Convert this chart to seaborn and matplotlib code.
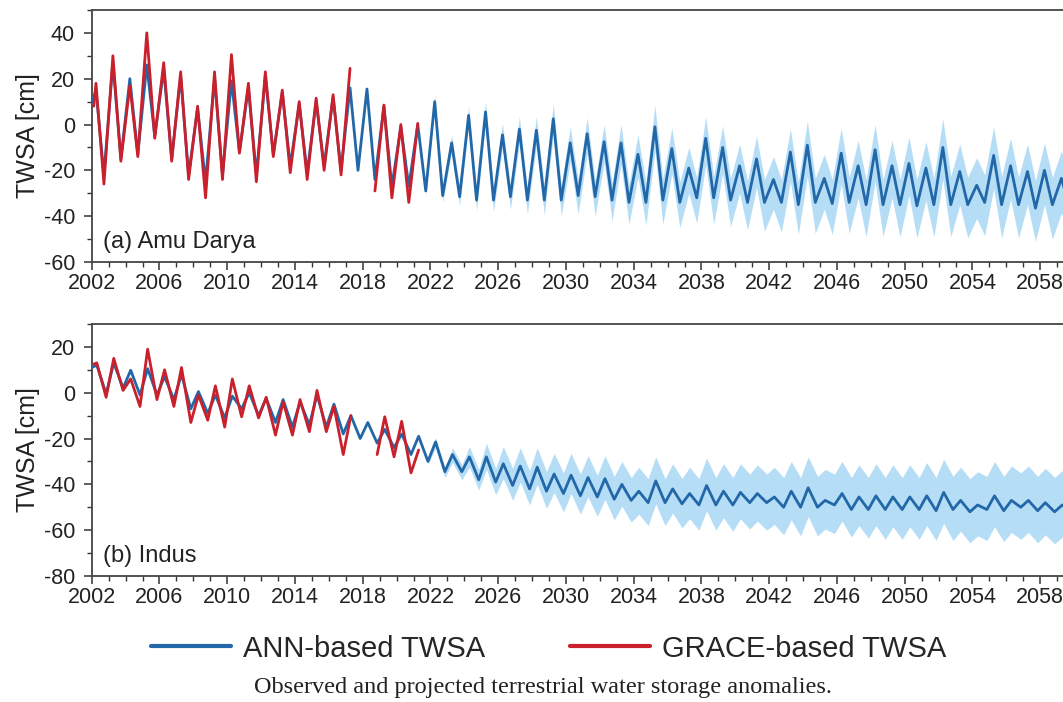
import numpy as np
import pandas as pd
import matplotlib
matplotlib.use("Agg")
import matplotlib.pyplot as plt
import seaborn as sns
from matplotlib.lines import Line2D
from matplotlib.ticker import MultipleLocator

# ---------------- data ----------------
years = list(range(2002, 2061))

# (a) Amu Darya  - ANN-based TWSA: seasonal peak and trough of every year [cm]
amu_ann_start = 9.0
amu_ann_peak = [15, 27, 20, 26, 24, 21, 7, 20, 19, 16, 21, 14, 9, 10, 12, 16, 15.5, 8, -1, 0,
                10, -8, 4, 5.5, -4.5, -2, -2.5, 2.5, -8, -4, -7.5, -8, -13, -1, -10.5, -19, -6, -10,
                -18, -15, -24, -12, -9, -23.5, -12.5, -18, -11, -18, -17, -19, -10, -20.5, -26.5,
                -13.5, -18, -20.5, -20, -23.5, -23.5]
amu_ann_trough = [-22, -15, -13, -5, -15, -22, -25, -22, -12, -22, -13, -18, -21, -18, -20, -20, -24, -27, -27, -29,
                  -31, -31.5, -33, -33, -31.5, -33, -33, -33, -31, -31.5, -33, -34, -34, -33, -34, -32, -32, -33,
                  -34, -34, -34, -35, -34, -34.5, -34, -35, -35, -35, -35.5, -35, -35, -35, -34,
                  -35, -35, -36.5, -35, -36, -36]
# (a) Amu Darya - GRACE-based TWSA (NaN = no data, 2017-2018 gap)
amu_grace_start = 8.0
amu_grace_peak = [18, 30, 17, 40, 27, 23, 8, 23, 30.5, 18, 23, 15, 10, 11.5, 13, 24.5, np.nan, 8.5, 0, 0.5]
amu_grace_trough = [-26, -16, -14, -6, -16, -24, -32, -24, -12.5, -25, -14, -21, -24, -20, -22, np.nan, -29, -32, -34, np.nan]
# (a) uncertainty band of projection: distance above / below the ANN line, years 2021-2060
amu_band_up = [1, 3, 3.5, 4, 4.5, 5, 5.5, 6, 6.5, 7, 7, 7.5, 8, 8.5, 9.5, 9, 9, 9.5, 9.5, 9.5,
               10, 10, 10, 10.5, 10.5, 11, 11, 11, 11, 11.5, 11.5, 12.5, 12, 12, 12.5, 12, 12, 12, 12, 12]
amu_band_dn = [2, 3, 4, 4.5, 5, 5.5, 6, 6.5, 7, 8, 8.5, 9, 9.5, 10, 10.5, 11, 11, 11.5, 11.5, 12,
               12.5, 13, 13, 13.5, 13.5, 13.5, 14, 14, 14, 14, 14, 14, 14.5, 14.5, 14.5, 14.5, 14.5, 15, 15, 15]

# (b) Indus - ANN-based TWSA
ind_ann_start = 11.0
ind_ann_peak = [12, 13, 9.8, 10.5, 7, 8, 0.5, -1, -1.5, 0, -2.5, -3, -4, -1, -5, -10, -13, -16, -18, -19,
                -21.5, -27, -28, -28, -31, -32, -32.5, -35.5, -36, -37, -37.5, -40, -43, -38.5, -42, -44,
                -40.5, -43, -43.5, -44, -45.5, -43, -41.5, -47, -44, -45.5, -45, -45.5, -45.5, -45,
                -43.5, -47, -49, -45, -47, -47, -48, -49, -47]
ind_ann_trough = [-0.5, 2, -1, -1, -3, -7, -9, -11, -7, -10, -13, -15, -14, -15, -18, -20, -22, -24, -27, -30,
                  -34.5, -34.5, -38, -39, -40.5, -42, -43, -44, -45, -45.5, -46.5, -47, -48, -48, -48.5, -49,
                  -49, -49, -48, -48, -50, -50, -50, -49, -51, -51, -51, -51, -51, -51.5,
                  -51, -52, -51, -51.5, -50, -51.5, -52, -52.5, -52]
# (b) Indus - GRACE-based TWSA
ind_grace_start = 12.5
ind_grace_peak = [13, 15, 6, 19, 10, 11, -1, 3, 6, 3, -2, -4, -3, 1, -6, -10, np.nan, -10.5, -12.5, -25]
ind_grace_trough = [-2, 1, -6, -3, -6, -13, -12, -15, -10.5, -11, -18.5, -18.5, -17, -17, -27, np.nan, -27, -28, -35, np.nan]
# (b) uncertainty band, years 2021-2060
ind_band_up = [1, 2, 3, 4.5, 6, 7.5, 8, 8.5, 9, 9.5, 9.5, 10, 10, 10.5, 10.5, 11, 11.5, 12, 12, 12.5,
               12.5, 13, 13, 13.5, 13.5, 14, 14, 14, 14, 14, 14.5, 14.5, 14.5, 14.5, 15, 15, 15, 15, 15, 15]
ind_band_dn = [1.5, 2.5, 3.5, 4.5, 5.5, 6.5, 7, 7.5, 8, 8, 8.5, 9, 9.5, 10, 10, 10.5, 11, 11, 11.5, 11.5,
               12, 12, 12.5, 12.5, 12.5, 12, 12.5, 13, 13, 13, 13, 13.5, 13.5, 13.5, 13.5, 14, 14, 14, 14, 14]

x_ticks = list(range(2002, 2059, 4))
panel_titles = ["(a) Amu Darya", "(b) Indus"]
legend_labels = ["ANN-based TWSA", "GRACE-based TWSA"]
caption = "Observed and projected terrestrial water storage anomalies."

# ---------------- helpers ----------------
ANN_C = "#2268a8"
GRACE_C = "#c9202c"
BAND_C = "#a9d8f5"


def seasonal_frame(start_val, start_t, peaks, troughs, pk_phase, tr_phase):
    """Turn per-year peak/trough readings into a time series table (NaN splits segments)."""
    t, v, seg = [start_t], [start_val], [0]
    s = 0
    for i, (p, q) in enumerate(zip(peaks, troughs)):
        for val, ph in ((p, pk_phase), (q, tr_phase)):
            if np.isnan(val):
                s += 1
                continue
            t.append(years[i] + ph)
            v.append(val)
            seg.append(s)
    return pd.DataFrame({"year": t, "twsa": v, "seg": seg})


def band_frame(ann_df, up, dn, t0):
    d = ann_df[ann_df["year"] >= t0].copy()
    idx = (d["year"].astype(int) - 2021).to_numpy()
    d["upper"] = d["twsa"].to_numpy() + np.array(up)[idx]
    d["lower"] = d["twsa"].to_numpy() - np.array(dn)[idx]
    return d


sns.set_theme(style="ticks")
plt.rcParams["font.family"] = ["Liberation Sans", "DejaVu Sans"]
plt.rcParams["axes.unicode_minus"] = False

fig = plt.figure(figsize=(10.63, 7.02), dpi=100)
ax_a = fig.add_axes([0.0863, 0.6268, 0.9137 + 0.02, 0.3590])
ax_b = fig.add_axes([0.0863, 0.1795, 0.9137 + 0.02, 0.3590])

panels = [
    (ax_a, amu_ann_start, amu_ann_peak, amu_ann_trough, amu_grace_start, amu_grace_peak, amu_grace_trough,
     amu_band_up, amu_band_dn, (0.25, 0.72), (-60, 50), 20, 10),
    (ax_b, ind_ann_start, ind_ann_peak, ind_ann_trough, ind_grace_start, ind_grace_peak, ind_grace_trough,
     ind_band_up, ind_band_dn, (0.3, 0.85), (-80, 30), 20, 10),
]

for k, (ax, a0, apk, atr, g0, gpk, gtr, bup, bdn, ph, ylim, ymaj, ymin) in enumerate(panels):
    ann = seasonal_frame(a0, 2002.0, apk, atr, ph[0], ph[1])
    grace = seasonal_frame(g0, 2002.12, gpk, gtr, ph[0], ph[1])
    band = band_frame(ann, bup, bdn, 2021.5)

    ax.fill_between(band["year"], band["lower"], band["upper"], color=BAND_C, alpha=0.85,
                    linewidth=0, zorder=1)
    sns.lineplot(data=ann, x="year", y="twsa", units="seg", estimator=None, color=ANN_C,
                 linewidth=2.0, ax=ax, zorder=3, sort=False)
    sns.lineplot(data=grace, x="year", y="twsa", units="seg", estimator=None, color=GRACE_C,
                 linewidth=2.0, ax=ax, zorder=4, sort=False)

    ax.set_xlim(2002, 2060.6)
    ax.set_ylim(*ylim)
    ax.set_xticks(x_ticks)
    ax.xaxis.set_minor_locator(MultipleLocator(1))
    ax.yaxis.set_major_locator(MultipleLocator(ymaj))
    ax.yaxis.set_minor_locator(MultipleLocator(ymin))
    ax.tick_params(which="major", direction="out", length=6, width=1.1, labelsize=15.5,
                   colors="#333333")
    ax.tick_params(which="minor", direction="out", length=3.5, width=1.0, colors="#333333")
    ax.tick_params(axis="y", which="major", pad=6)
    ax.tick_params(axis="x", which="major", pad=2)
    for lab in ax.get_xticklabels() + ax.get_yticklabels():
        lab.set_color("#222222")
    for sp in ("top", "left", "bottom"):
        ax.spines[sp].set_color("#444444")
        ax.spines[sp].set_linewidth(1.3)
    ax.spines["right"].set_visible(False)
    ax.set_xlabel("")
    ax.set_ylabel("TWSA [cm]", fontsize=18, color="#222222", labelpad=3)
    ax.text(0.0115, 0.035, panel_titles[k], transform=ax.transAxes, fontsize=17,
            color="#222222", ha="left", va="bottom")

handles = [Line2D([], [], color=ANN_C, linewidth=3), Line2D([], [], color=GRACE_C, linewidth=3)]
fig.legend(handles, legend_labels, loc="center", bbox_to_anchor=(0.516, 0.076), ncol=2,
           frameon=False, fontsize=21, handlelength=2.75, columnspacing=2.9, handletextpad=0.4)
fig.text(0.511, 0.02, caption, ha="center", va="center", fontsize=17.5,
         family=["Liberation Serif", "DejaVu Serif"], color="#222222")

fig.savefig("out.png", dpi=100)
